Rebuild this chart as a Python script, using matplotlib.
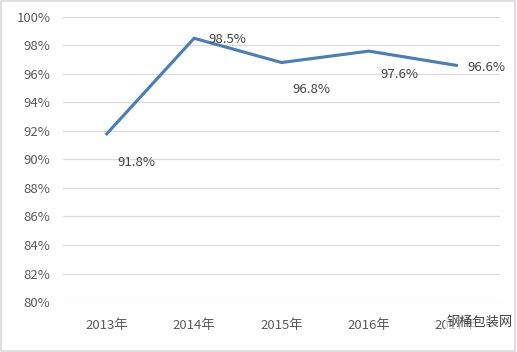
import matplotlib
matplotlib.use("Agg")
import matplotlib.pyplot as plt
from matplotlib.patches import Rectangle

plt.rcParams['font.family'] = ['Noto Sans CJK SC', 'DejaVu Sans']

years = ["2013年", "2014年", "2015年", "2016年", "2017年"]
rates = [91.8, 98.5, 96.8, 97.6, 96.6]
yticks = [80, 82, 84, 86, 88, 90, 92, 94, 96, 98, 100]
label_offsets = [(8, -21), (10, -1), (8, -19.5), (8, -16.5), (8, -1.5)]

fig = plt.figure(figsize=(5.17, 3.52), dpi=100)
ax = fig.add_axes([0.122, 0.142, 0.845, 0.81])

x = list(range(len(years)))
ax.plot(x, rates, color='#4A7EBB', linewidth=2.25, solid_joinstyle='miter')
for xi, v, off in zip(x, rates, label_offsets):
    ax.annotate(f"{v:.1f}%", (xi, v), xytext=off, textcoords='offset points',
                fontsize=9.5, color='#404040', ha='left', va='center')

ax.set_xlim(-0.5, len(years) - 0.5)
ax.set_ylim(80, 100)
ax.set_yticks(yticks)
ax.set_yticklabels([f"{t}%" for t in yticks])
ax.set_xticks(x)
ax.set_xticklabels(years)
ax.grid(axis='y', color='#D9D9D9', linewidth=0.9)
ax.set_axisbelow(True)
for s in ax.spines.values():
    s.set_visible(False)
ax.tick_params(axis='both', length=0, colors='#595959', labelsize=9.5)
ax.tick_params(axis='x', pad=12)
ax.tick_params(axis='y', pad=9)

fig.patches.append(Rectangle((0.002, 0.003), 0.995, 0.994, transform=fig.transFigure,
                             fill=False, edgecolor='#D9D9D9', linewidth=1.2))

fig.text(0.992, 0.085, "钢桶包装网", fontsize=9.5, color='#404040', ha='right', va='center',
         bbox=dict(facecolor='white', edgecolor='none', alpha=0.6, pad=1))

fig.savefig("out.png", dpi=100)
